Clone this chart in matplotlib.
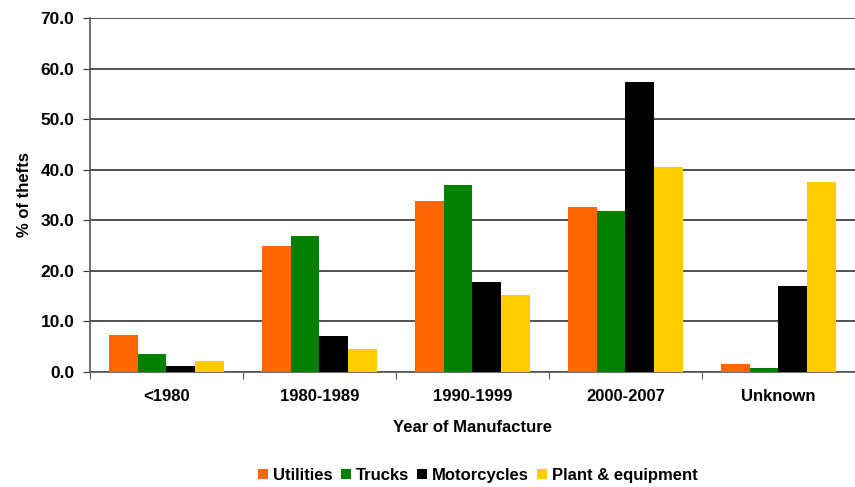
import numpy as np
import matplotlib
matplotlib.use('Agg')
import matplotlib.pyplot as plt
from matplotlib.patches import Patch

plt.rcParams['font.family'] = ['Liberation Sans', 'DejaVu Sans']

categories = ['<1980', '1980-1989', '1990-1999', '2000-2007', 'Unknown']
series = ['Utilities', 'Trucks', 'Motorcycles', 'Plant & equipment']
utilities = [7.3, 25.0, 33.8, 32.6, 1.6]
trucks = [3.6, 26.9, 37.0, 31.8, 0.8]
motorcycles = [1.2, 7.1, 17.8, 57.4, 17.0]
plant = [2.2, 4.5, 15.2, 40.5, 37.5]
colors = ['#FF6600', '#008000', '#000000', '#FFCC00']

fig = plt.figure(figsize=(8.55, 4.87), dpi=100)
ax = fig.add_axes([0.105, 0.236, 0.895, 0.727])

x = np.arange(len(categories))
w = 0.1875
for i, (vals, c) in enumerate(zip([utilities, trucks, motorcycles, plant], colors)):
    ax.bar(x + (i - 1.5) * w, vals, width=w, color=c, edgecolor='none', zorder=3)

ax.set_xlim(-0.5, len(categories) - 0.5)
ax.set_ylim(0, 70)
ax.set_yticks(np.arange(0, 71, 10))
ax.set_yticklabels([f'{v:.1f}' for v in np.arange(0, 71, 10)], fontsize=12.5, fontweight='bold')
ax.set_xticks(x)
ax.set_xticklabels(categories, fontsize=12, fontweight='bold')
ax.set_xticks(np.arange(-0.5, len(categories), 1), minor=True)
ax.tick_params(axis='x', which='major', length=0, pad=12)
ax.tick_params(axis='x', which='minor', length=5, direction='out', color='#333333')
ax.tick_params(axis='y', length=5, direction='out', color='#333333', pad=6)

ax.grid(axis='y', color='#333333', linewidth=1.2, zorder=0)
for s in ['top', 'right']:
    ax.spines[s].set_visible(False)
ax.spines['left'].set_color('#555555')
ax.spines['left'].set_linewidth(1.2)
ax.spines['bottom'].set_color('#555555')
ax.spines['bottom'].set_linewidth(1.2)

ax.set_ylabel('% of thefts', fontsize=12, fontweight='bold', labelpad=6)
ax.set_xlabel('Year of Manufacture', fontsize=12, fontweight='bold', labelpad=12)

handles = [Patch(facecolor=c, edgecolor='none') for c in colors]
fig.legend(handles, series, loc='center', bbox_to_anchor=(0.559, 0.024), ncol=4,
           frameon=False, handlelength=0.6, handleheight=0.6, handletextpad=0.3,
           columnspacing=0.5, prop={'size': 12, 'weight': 'bold'})

fig.savefig('out.png', dpi=100)
